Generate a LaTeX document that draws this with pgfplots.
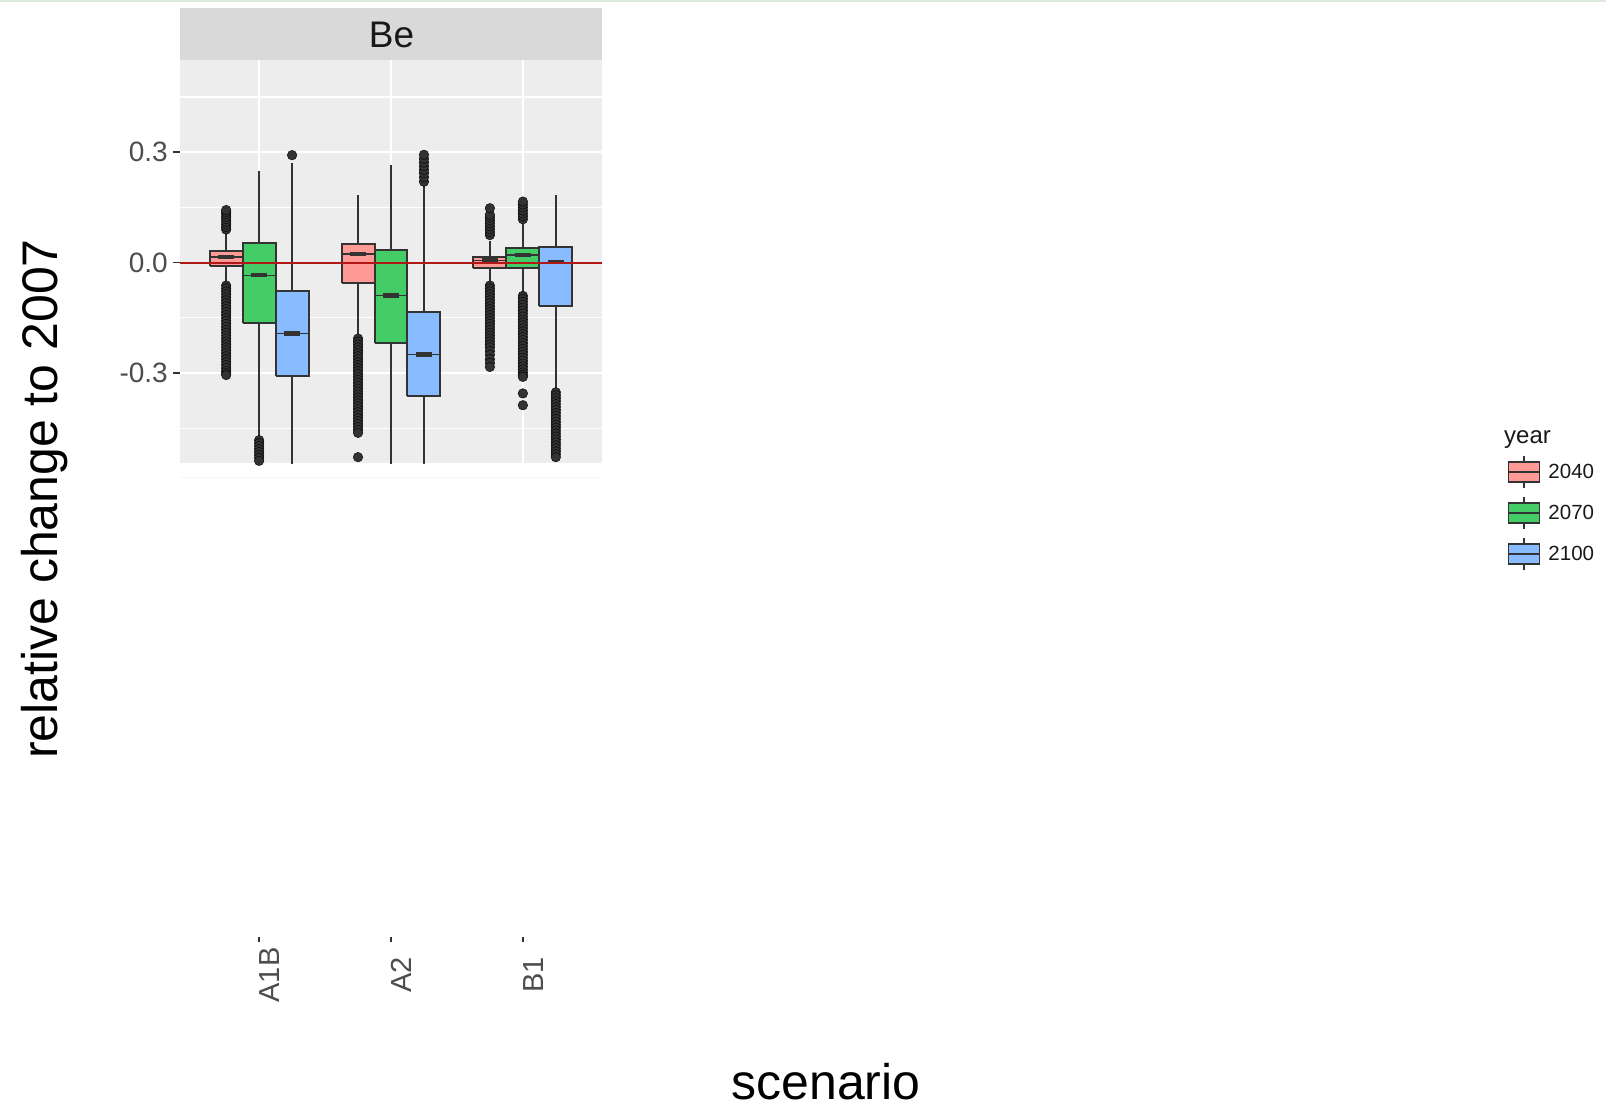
\documentclass[border=0pt]{standalone}
\usepackage{pgfplots}
\pgfplotsset{compat=1.18}
\usepackage{fontspec}
\setmainfont{Liberation Sans}

\definecolor{panelbg}{HTML}{EDEDED}
\definecolor{stripbg}{HTML}{D9D9D9}
\definecolor{edgecol}{HTML}{333333}
\definecolor{c40}{HTML}{FF9A96}
\definecolor{c70}{HTML}{44CC66}
\definecolor{c100}{HTML}{88BBFF}
\definecolor{zeroline}{HTML}{B01818}
\definecolor{labgray}{HTML}{4D4D4D}
\definecolor{topline}{HTML}{DDEBDD}

\pgfplotsset{
  legendbox/.style={legend image code/.code={
    \draw[edgecol, line width=1.8pt] (15.5pt,-16pt) -- (15.5pt,16pt);
    \draw[edgecol, fill=#1, line width=1.8pt] (0pt,-10pt) rectangle (31pt,10pt);
    \draw[edgecol, line width=1.8pt] (0pt,0pt) -- (31pt,0pt);
  }},
  boxes/.style={fill=#1, draw=edgecol, line width=2pt, line join=miter, unbounded coords=jump, forget plot},
  outl/.style={only marks, mark=*, mark size=4.8pt, mark options={draw=none, fill=edgecol}, forget plot},
}

\begin{document}
\begin{tikzpicture}
\useasboundingbox (0pt,0pt) rectangle (1606pt,-1108pt);
\fill[white] (0pt,0pt) rectangle (1606pt,-1108pt);
\fill[topline] (0pt,0pt) rectangle (1606pt,-2.5pt);
\fill[stripbg] (180pt,-8.3pt) rectangle (602pt,-60pt);
\node[font=\fontsize{37}{40}\selectfont, text=black!90, inner sep=0pt] at (391.5pt,-35pt) {Be};
\draw[gray!8, line width=1pt] (180pt,-477pt) -- (602pt,-477pt);

\begin{axis}[
  at={(180pt,-463pt)}, anchor=south west,
  scale only axis, width=422pt, height=403pt,
  xmin=0.4, xmax=3.6, ymin=-0.5439, ymax=0.5504,
  axis background/.style={fill=panelbg},
  axis line style={draw=none},
  xtick={1,2,3}, xticklabels={,,},
  ytick={-0.3,0,0.3}, yticklabels={-0.3,0.0,0.3},
  minor ytick={-0.45,-0.15,0.15,0.45},
  ytick pos=left,
  grid=both,
  major grid style={white, line width=2.2pt},
  minor grid style={white, line width=1.1pt},
  tick align=outside, major tick length=7pt, minor tick length=0pt,
  xtick style={draw=none},
  ytick style={draw=edgecol, line width=1.5pt},
  yticklabel style={font=\fontsize{28}{30}\selectfont, text=labgray, inner sep=0pt},
  yticklabel shift=5pt,
  ylabel={relative change to 2007},
  ylabel style={at={(axis description cs:-0.3199,-0.0893)}, anchor=center, font=\fontsize{50}{52}\selectfont, text=black},
  xlabel={scenario},
  xlabel style={at={(axis description cs:1.5308,-1.5806)}, anchor=base, font=\fontsize{50}{52}\selectfont, text=black},
  legend style={draw=none, fill=none, at={(axis description cs:3.1457,0.0199)}, anchor=north west,
    font=\fontsize{20.5}{22}\selectfont, text=black!90, row sep=7pt, column sep=8pt, inner sep=0pt,
    nodes={inner sep=0pt}},
  legend cell align=left,
]
\addlegendimage{legendbox=c40}\addlegendentry{2040}
\addlegendimage{legendbox=c70}\addlegendentry{2070}
\addlegendimage{legendbox=c100}\addlegendentry{2100}

% whiskers (quartile -> whisker end), all nine boxes
\addplot[edgecol, line width=1.8pt, unbounded coords=jump, forget plot] coordinates {
(0.75,0.033)(0.75,0.085) (0.75,nan)
(0.75,-0.009)(0.75,-0.055) (0.75,nan)
(1,0.053)(1,0.25) (1,nan)
(1,-0.165)(1,-0.475) (1,nan)
(1.25,-0.076)(1.25,0.27) (1.25,nan)
(1.25,-0.308)(1.25,-0.62) (1.25,nan)
(1.75,0.05)(1.75,0.184) (1.75,nan)
(1.75,-0.056)(1.75,-0.2) (1.75,nan)
(2,0.034)(2,0.266) (2,nan)
(2,-0.219)(2,-0.62) (2,nan)
(2.25,-0.133)(2.25,0.21) (2.25,nan)
(2.25,-0.363)(2.25,-0.62) (2.25,nan)
(2.75,0.016)(2.75,0.058) (2.75,nan)
(2.75,-0.014)(2.75,-0.05) (2.75,nan)
(3,0.039)(3,0.11) (3,nan)
(3,-0.014)(3,-0.08) (3,nan)
(3.25,0.044)(3.25,0.184) (3.25,nan)
(3.25,-0.118)(3.25,-0.345)
};

% boxes (lower quartile .. upper quartile), year 2040
\addplot[boxes=c40] coordinates {
(0.625,-0.009)(0.875,-0.009)(0.875,0.033)(0.625,0.033)(0.625,-0.009) (0.625,nan)
(1.625,-0.056)(1.875,-0.056)(1.875,0.05)(1.625,0.05)(1.625,-0.056) (1.625,nan)
(2.625,-0.014)(2.875,-0.014)(2.875,0.016)(2.625,0.016)(2.625,-0.014)
};
% year 2070
\addplot[boxes=c70] coordinates {
(0.875,-0.165)(1.125,-0.165)(1.125,0.053)(0.875,0.053)(0.875,-0.165) (0.875,nan)
(1.875,-0.219)(2.125,-0.219)(2.125,0.034)(1.875,0.034)(1.875,-0.219) (1.875,nan)
(2.875,-0.014)(3.125,-0.014)(3.125,0.039)(2.875,0.039)(2.875,-0.014)
};
% year 2100
\addplot[boxes=c100] coordinates {
(1.125,-0.308)(1.375,-0.308)(1.375,-0.076)(1.125,-0.076)(1.125,-0.308) (1.125,nan)
(2.125,-0.363)(2.375,-0.363)(2.375,-0.133)(2.125,-0.133)(2.125,-0.363) (2.125,nan)
(3.125,-0.118)(3.375,-0.118)(3.375,0.044)(3.125,0.044)(3.125,-0.118)
};

% medians: thin notch line across the box, thick bar in the middle
\addplot[edgecol, line width=1.4pt, unbounded coords=jump, forget plot] coordinates {
(0.625,0.015)(0.875,0.015) (0.875,nan)
(0.875,-0.034)(1.125,-0.034) (1.125,nan)
(1.125,-0.192)(1.375,-0.192) (1.375,nan)
(1.625,0.024)(1.875,0.024) (1.875,nan)
(1.875,-0.089)(2.125,-0.089) (2.125,nan)
(2.125,-0.249)(2.375,-0.249) (2.375,nan)
(2.625,0.006)(2.875,0.006) (2.875,nan)
(2.875,0.021)(3.125,0.021) (3.125,nan)
(3.125,0.001)(3.375,0.001)
};
\addplot[edgecol, line width=4.2pt, unbounded coords=jump, forget plot] coordinates {
(0.6875,0.015)(0.8125,0.015) (0.8125,nan)
(0.9375,-0.034)(1.0625,-0.034) (1.0625,nan)
(1.1875,-0.192)(1.3125,-0.192) (1.3125,nan)
(1.6875,0.024)(1.8125,0.024) (1.8125,nan)
(1.9375,-0.089)(2.0625,-0.089) (2.0625,nan)
(2.1875,-0.249)(2.3125,-0.249) (2.3125,nan)
(2.6875,0.006)(2.8125,0.006) (2.8125,nan)
(2.9375,0.021)(3.0625,0.021) (3.0625,nan)
(3.1875,0.001)(3.3125,0.001)
};

% outliers
\addplot[outl] coordinates {
(0.75,0.09)(0.75,0.097)(0.75,0.104)(0.75,0.111)(0.75,0.118)(0.75,0.125)(0.75,0.132)(0.75,0.138)(0.75,0.143)
(0.75,-0.062)(0.75,-0.07)(0.75,-0.078)(0.75,-0.086)(0.75,-0.094)(0.75,-0.102)(0.75,-0.11)(0.75,-0.118)
(0.75,-0.126)(0.75,-0.134)(0.75,-0.142)(0.75,-0.15)(0.75,-0.158)(0.75,-0.166)(0.75,-0.174)(0.75,-0.182)
(0.75,-0.19)(0.75,-0.198)(0.75,-0.206)(0.75,-0.214)(0.75,-0.222)(0.75,-0.23)(0.75,-0.238)(0.75,-0.246)
(0.75,-0.254)(0.75,-0.262)(0.75,-0.27)(0.75,-0.278)(0.75,-0.286)(0.75,-0.294)(0.75,-0.3)(0.75,-0.305)
(1,-0.482)(1,-0.49)(1,-0.498)(1,-0.506)(1,-0.514)(1,-0.522)(1,-0.53)(1,-0.538)(1,-0.546)(1,-0.554)
(1.25,0.292)
(1.75,-0.206)(1.75,-0.214)(1.75,-0.222)(1.75,-0.23)(1.75,-0.238)(1.75,-0.246)(1.75,-0.254)(1.75,-0.262)
(1.75,-0.27)(1.75,-0.278)(1.75,-0.286)(1.75,-0.294)(1.75,-0.302)(1.75,-0.31)(1.75,-0.318)(1.75,-0.326)
(1.75,-0.334)(1.75,-0.342)(1.75,-0.35)(1.75,-0.358)(1.75,-0.366)(1.75,-0.374)(1.75,-0.382)(1.75,-0.39)
(1.75,-0.398)(1.75,-0.406)(1.75,-0.414)(1.75,-0.422)(1.75,-0.43)(1.75,-0.438)(1.75,-0.446)(1.75,-0.454)
(1.75,-0.462)(1.75,-0.528)
(2.25,0.22)(2.25,0.232)(2.25,0.243)(2.25,0.252)(2.25,0.262)(2.25,0.272)(2.25,0.282)(2.25,0.293)
(2.75,0.075)(2.75,0.083)(2.75,0.091)(2.75,0.099)(2.75,0.107)(2.75,0.115)(2.75,0.123)(2.75,0.13)(2.75,0.148)
(2.75,-0.062)(2.75,-0.07)(2.75,-0.078)(2.75,-0.086)(2.75,-0.094)(2.75,-0.102)(2.75,-0.11)(2.75,-0.118)
(2.75,-0.126)(2.75,-0.134)(2.75,-0.142)(2.75,-0.15)(2.75,-0.158)(2.75,-0.166)(2.75,-0.174)(2.75,-0.182)
(2.75,-0.19)(2.75,-0.198)(2.75,-0.206)(2.75,-0.214)(2.75,-0.222)(2.75,-0.23)(2.75,-0.24)(2.75,-0.25)
(2.75,-0.262)(2.75,-0.272)(2.75,-0.283)
(3,0.118)(3,0.126)(3,0.134)(3,0.142)(3,0.15)(3,0.158)(3,0.166)
(3,-0.09)(3,-0.098)(3,-0.106)(3,-0.114)(3,-0.122)(3,-0.13)(3,-0.138)(3,-0.146)(3,-0.154)(3,-0.162)
(3,-0.17)(3,-0.178)(3,-0.186)(3,-0.194)(3,-0.202)(3,-0.21)(3,-0.218)(3,-0.226)(3,-0.234)(3,-0.242)
(3,-0.25)(3,-0.258)(3,-0.266)(3,-0.274)(3,-0.282)(3,-0.29)(3,-0.298)(3,-0.305)(3,-0.31)(3,-0.355)(3,-0.387)
(3.25,-0.352)(3.25,-0.36)(3.25,-0.368)(3.25,-0.376)(3.25,-0.384)(3.25,-0.392)(3.25,-0.4)(3.25,-0.408)
(3.25,-0.416)(3.25,-0.424)(3.25,-0.432)(3.25,-0.44)(3.25,-0.448)(3.25,-0.456)(3.25,-0.464)(3.25,-0.472)
(3.25,-0.48)(3.25,-0.488)(3.25,-0.496)(3.25,-0.504)(3.25,-0.512)(3.25,-0.52)(3.25,-0.528)
};

% zero line
\addplot[zeroline, line width=1.8pt, forget plot] coordinates {(0.4,0) (3.6,0)};
\end{axis}

% bottom axis carrying the category ticks
\begin{axis}[
  at={(180pt,-937pt)}, anchor=south west,
  scale only axis, width=422pt, height=20pt,
  xmin=0.4, xmax=3.6, ymin=0, ymax=1,
  axis y line=none, axis x line*=bottom,
  x axis line style={draw=none},
  xtick={1,2,3}, xticklabels={A1B,A2,B1},
  tick align=outside, major tick length=5pt,
  xtick style={draw=edgecol, line width=1.5pt},
  xticklabel style={rotate=90, anchor=north, inner sep=0pt, font=\fontsize{29}{31}\selectfont, text=labgray},
  xticklabel shift=33pt,
]
\addplot[draw=none] coordinates {(1,0.5)};
\end{axis}

\node[anchor=base west, font=\fontsize{24}{28}\selectfont, text=black!90, inner sep=0pt] at (1504pt,-443pt) {year};
\end{tikzpicture}
\end{document}
